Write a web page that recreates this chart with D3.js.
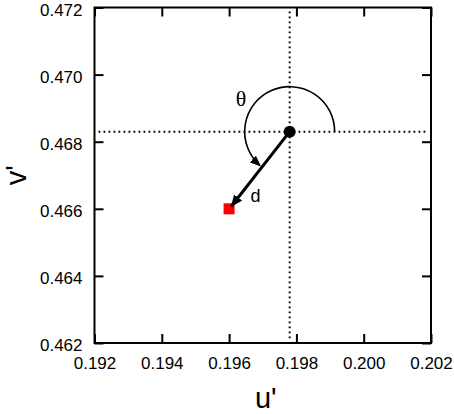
<!DOCTYPE html>
<html><head><meta charset="utf-8">
<script src="https://cdn.jsdelivr.net/npm/d3@7"></script>
<style>html,body{margin:0;padding:0;background:#fff;}text{font-family:"Liberation Sans",Arial,sans-serif;}</style>
</head><body><svg id="c" width="454" height="414"></svg>
<script>
const xDomain = [0.192, 0.202];
const yDomain = [0.462, 0.472];
const xTicks = [0.192, 0.194, 0.196, 0.198, 0.200, 0.202];
const yTicks = [0.462, 0.464, 0.466, 0.468, 0.470, 0.472];
const refPoint = [0.1978, 0.4683];   // u', v' of reference (black dot)
const testPoint = [0.196, 0.466];    // u', v' of test point (red square)
const thetaDeg = [0, 228];           // arc sweep (start, end), degrees CCW
const labels = {x: "u'", y: "v'", theta: "θ", d: "d"};

const svg = d3.select("#c");
const L = 94.5, R = 431, T = 7.5, B = 343;
const x = d3.scaleLinear().domain(xDomain).range([L, R]);
const y = d3.scaleLinear().domain(yDomain).range([B, T]);

const defs = svg.append("defs");
defs.append("marker").attr("id","ah").attr("viewBox","0 0 12 10").attr("refX",11).attr("refY",5)
  .attr("markerWidth",12).attr("markerHeight",10).attr("markerUnits","userSpaceOnUse").attr("orient","auto")
  .append("path").attr("d","M0,0 L12,5 L0,10 Z").attr("fill","#000");
defs.append("marker").attr("id","ah2").attr("viewBox","0 0 11 9").attr("refX",9).attr("refY",4.5)
  .attr("markerWidth",11).attr("markerHeight",9).attr("markerUnits","userSpaceOnUse").attr("orient","auto")
  .append("path").attr("d","M0,0 L11,4.5 L0,9 Z").attr("fill","#000");

// dotted crosshair
const dot = {stroke:"#000","stroke-width":2,"stroke-dasharray":"1.8,3.2"};
const hl = svg.append("line").attr("x1", x(xDomain[0])+4).attr("x2", x(xDomain[1])-4)
  .attr("y1", y(refPoint[1])).attr("y2", y(refPoint[1]));
const vl = svg.append("line").attr("y1", y(yDomain[1])+4).attr("y2", y(yDomain[0])-4)
  .attr("x1", x(refPoint[0])).attr("x2", x(refPoint[0]));
for (const l of [hl, vl]) for (const k in dot) l.attr(k, dot[k]);

// axes (ticks inward on all sides)
const tl = 9;
svg.append("g").attr("transform",`translate(0,${B})`)
  .call(d3.axisBottom(x).tickValues(xTicks).tickSize(-tl).tickPadding(14).tickFormat(d3.format(".3f")));
svg.append("g").attr("transform",`translate(0,${T})`)
  .call(d3.axisTop(x).tickValues(xTicks).tickSize(-tl).tickFormat(""));
const ya = svg.append("g").attr("transform",`translate(${L},0)`)
  .call(d3.axisLeft(y).tickValues(yTicks).tickSize(-tl).tickPadding(12).tickFormat(d3.format(".3f")));
ya.selectAll(".tick text").attr("dy","0.45em");
svg.append("g").attr("transform",`translate(${R},0)`)
  .call(d3.axisRight(y).tickValues(yTicks).tickSize(-tl).tickFormat(""));
svg.selectAll(".domain").remove();
svg.selectAll(".tick line").attr("stroke","#000").attr("stroke-width",2);
svg.selectAll(".tick text").attr("font-size",17).attr("fill","#000");
svg.append("rect").attr("x",L).attr("y",T).attr("width",R-L).attr("height",B-T)
  .attr("fill","none").attr("stroke","#000").attr("stroke-width",2);

// arc theta
const cx = x(refPoint[0]), cy = y(refPoint[1]), r = 45;
const a0 = thetaDeg[0]*Math.PI/180, a1 = thetaDeg[1]*Math.PI/180;
const sx = cx + r*Math.cos(a0), sy = cy - r*Math.sin(a0);
const ex = cx + r*Math.cos(a1), ey = cy - r*Math.sin(a1);
svg.append("path").attr("d",`M${sx},${sy} A${r},${r} 0 ${thetaDeg[1]-thetaDeg[0]>180?1:0} 0 ${ex},${ey}`)
  .attr("fill","none").attr("stroke","#000").attr("stroke-width",1.6).attr("marker-end","url(#ah2)");

// test point
const px = x(testPoint[0]), py = y(testPoint[1]);
svg.append("rect").attr("x",px-5.5).attr("y",py-5.5).attr("width",11).attr("height",11).attr("fill","#f00");

// d arrow
const ang = Math.atan2(py-cy, px-cx);
svg.append("line").attr("x1",cx).attr("y1",cy)
  .attr("x2",px - 2*Math.cos(ang)+1).attr("y2",py - 2*Math.sin(ang)-1)
  .attr("stroke","#000").attr("stroke-width",3).attr("marker-end","url(#ah)");

svg.append("circle").attr("cx",cx).attr("cy",cy).attr("r",6).attr("fill","#000");

// labels
svg.append("text").attr("x",241).attr("y",106).attr("text-anchor","middle").attr("font-size",22)
  .style("font-family",'"Liberation Serif","Times New Roman",serif').text(labels.theta);
svg.append("text").attr("x",255.5).attr("y",201.5).attr("text-anchor","middle").attr("font-size",18).text(labels.d);
svg.append("text").attr("x",(L+R)/2+3).attr("y",408).attr("text-anchor","middle").attr("font-size",29).text(labels.x);
svg.append("text").attr("transform",`translate(26,${(T+B)/2}) rotate(-90)`).attr("text-anchor","middle").attr("font-size",29).text(labels.y);
</script></body></html>
